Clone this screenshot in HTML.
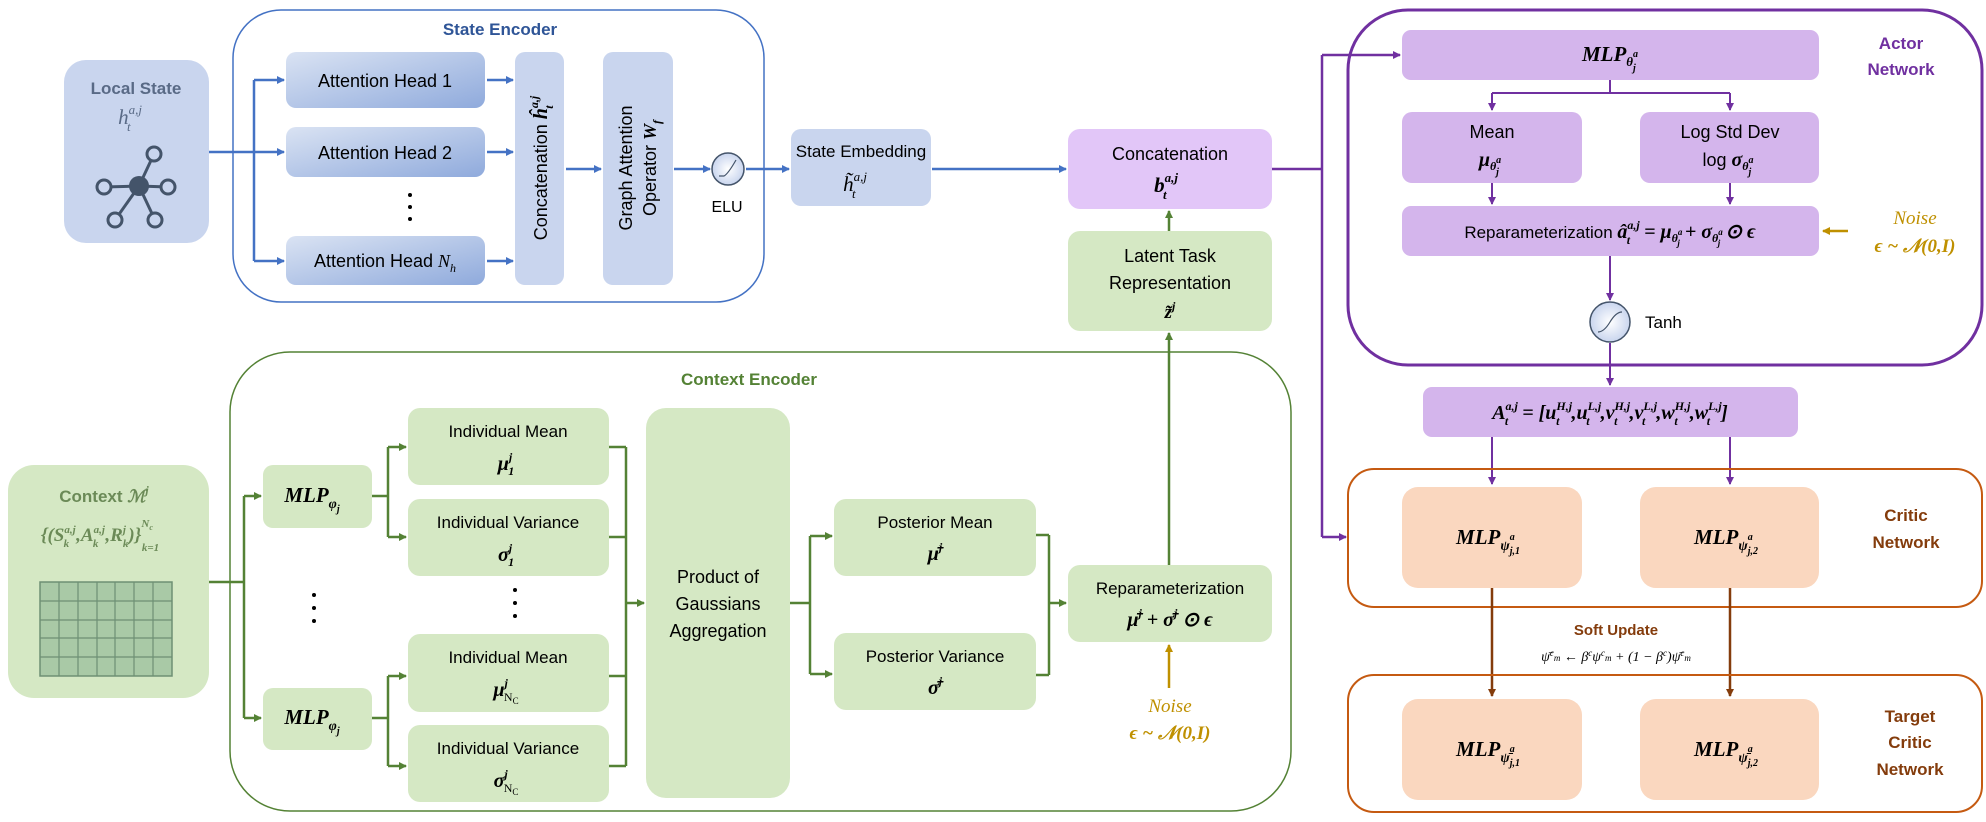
<!DOCTYPE html>
<html><head><meta charset="utf-8"><style>
html,body{margin:0;padding:0;background:#fff;}
svg{display:block;}
text{font-family:"Liberation Sans",sans-serif;}
.m{font-family:"Liberation Serif",serif;font-style:italic;font-weight:bold;}
.mi{font-family:"Liberation Serif",serif;font-style:italic;}
</style></head><body>
<svg width="1986" height="822" viewBox="0 0 1986 822" xmlns="http://www.w3.org/2000/svg">
<defs>
<marker id="mb" markerWidth="8" markerHeight="8" refX="7" refY="4" orient="auto" markerUnits="userSpaceOnUse"><path d="M0,0L8,4L0,8z" fill="#4472C4"/></marker>
<marker id="mg" markerWidth="8" markerHeight="8" refX="7" refY="4" orient="auto" markerUnits="userSpaceOnUse"><path d="M0,0L8,4L0,8z" fill="#548235"/></marker>
<marker id="mp" markerWidth="8" markerHeight="8" refX="7" refY="4" orient="auto" markerUnits="userSpaceOnUse"><path d="M0,0L8,4L0,8z" fill="#7030A0"/></marker>
<marker id="mo" markerWidth="8" markerHeight="8" refX="7" refY="4" orient="auto" markerUnits="userSpaceOnUse"><path d="M0,0L8,4L0,8z" fill="#BF9000"/></marker>
<marker id="mr" markerWidth="8" markerHeight="8" refX="7" refY="4" orient="auto" markerUnits="userSpaceOnUse"><path d="M0,0L8,4L0,8z" fill="#843C0C"/></marker>
<linearGradient id="gh" x1="0" x2="1" y1="0" y2="1"><stop offset="0" stop-color="#DAE3F3"/><stop offset="1" stop-color="#8FAADC"/></linearGradient>
<radialGradient id="gc"><stop offset="0" stop-color="#fff"/><stop offset="1" stop-color="#C9D5EE"/></radialGradient>
</defs>

<!-- ===== State encoder ===== -->
<rect x="64" y="60" width="145" height="183" rx="22" fill="#C9D5EE"/>
<text x="136" y="94" font-size="17" font-weight="bold" fill="#596A86" text-anchor="middle">Local State</text>
<text x="130" y="124" class="mi" font-size="21" fill="#596A86" text-anchor="middle">h<tspan font-size="13" dy="-10">a,j</tspan><tspan font-size="13" dx="-15" dy="17">t</tspan><tspan dx="10" dy="-7"> </tspan></text>
<g stroke="#44546A" stroke-width="3" fill="none">
<line x1="139" y1="186" x2="154" y2="154"/><line x1="139" y1="186" x2="104" y2="187"/><line x1="139" y1="186" x2="168" y2="187"/><line x1="139" y1="186" x2="115" y2="220"/><line x1="139" y1="186" x2="155" y2="220"/>
<circle cx="154" cy="154" r="7" fill="#C9D5EE"/><circle cx="104" cy="187" r="7" fill="#C9D5EE"/><circle cx="168" cy="187" r="7" fill="#C9D5EE"/><circle cx="115" cy="220" r="7" fill="#C9D5EE"/><circle cx="155" cy="220" r="7" fill="#C9D5EE"/>
</g>
<circle cx="139" cy="186" r="10" fill="#44546A"/>

<rect x="233" y="10" width="531" height="292" rx="48" fill="none" stroke="#4472C4" stroke-width="1.5"/>
<text x="500" y="35" font-size="17" font-weight="bold" fill="#2F5597" text-anchor="middle">State Encoder</text>

<g stroke="#4472C4" stroke-width="2.5" fill="none">
<line x1="209" y1="152" x2="254" y2="152"/>
<line x1="254" y1="80" x2="254" y2="261"/>
<line x1="254" y1="80" x2="284" y2="80" marker-end="url(#mb)"/>
<line x1="254" y1="152" x2="284" y2="152" marker-end="url(#mb)"/>
<line x1="254" y1="261" x2="284" y2="261" marker-end="url(#mb)"/>
<line x1="487" y1="80" x2="513" y2="80" marker-end="url(#mb)"/>
<line x1="487" y1="152" x2="513" y2="152" marker-end="url(#mb)"/>
<line x1="487" y1="261" x2="513" y2="261" marker-end="url(#mb)"/>
<line x1="566" y1="169" x2="601" y2="169" marker-end="url(#mb)"/>
<line x1="674" y1="169" x2="710" y2="169" marker-end="url(#mb)"/>
<line x1="746" y1="169" x2="789" y2="169" marker-end="url(#mb)"/>
<line x1="932" y1="169" x2="1066" y2="169" marker-end="url(#mb)"/>
</g>
<rect x="286" y="52" width="199" height="56" rx="10" fill="url(#gh)"/>
<rect x="286" y="127" width="199" height="50" rx="10" fill="url(#gh)"/>
<rect x="286" y="236" width="199" height="49" rx="10" fill="url(#gh)"/>
<text x="385" y="87" font-size="18" text-anchor="middle">Attention Head 1</text>
<text x="385" y="159" font-size="18" text-anchor="middle">Attention Head 2</text>
<text x="385" y="267" font-size="18" text-anchor="middle">Attention Head <tspan class="mi">N<tspan font-size="12" dy="5">h</tspan></tspan></text>
<circle cx="410" cy="195" r="2" fill="#000"/><circle cx="410" cy="207" r="2" fill="#000"/><circle cx="410" cy="219" r="2" fill="#000"/>
<rect x="515" y="52" width="49" height="233" rx="10" fill="#C9D5EE"/>
<text transform="translate(547,168) rotate(-90)" font-size="18" text-anchor="middle">Concatenation <tspan class="m" font-size="20">ĥ<tspan font-size="12" dy="-9">a,j</tspan><tspan font-size="12" dx="-13" dy="15">t</tspan><tspan dx="9" dy="-6"> </tspan></tspan></text>
<rect x="603" y="52" width="70" height="233" rx="10" fill="#C9D5EE"/>
<text transform="translate(632,168) rotate(-90)" font-size="18" text-anchor="middle">Graph Attention</text>
<text transform="translate(656,168) rotate(-90)" font-size="18" text-anchor="middle">Operator <tspan class="m">W<tspan font-size="12" dy="5">f</tspan></tspan></text>
<circle cx="728" cy="169" r="16" fill="url(#gc)" stroke="#44546A" stroke-width="1.5"/>
<path d="M719,176 L724,176 Q728,174 736,160" stroke="#44546A" fill="none" stroke-width="1.2"/>
<text x="727" y="212" font-size="16" text-anchor="middle">ELU</text>
<rect x="791" y="129" width="140" height="77" rx="10" fill="#C9D5EE"/>
<text x="861" y="157" font-size="17" text-anchor="middle">State Embedding</text>
<text x="855" y="191" class="mi" font-size="21" text-anchor="middle">h̃<tspan font-size="13" dy="-10">a,j</tspan><tspan font-size="13" dx="-15" dy="17">t</tspan><tspan dx="10" dy="-7"> </tspan></text>

<!-- ===== Concat / latent ===== -->
<rect x="1068" y="129" width="204" height="80" rx="12" fill="#E2C6F8"/>
<text x="1170" y="160" font-size="18" text-anchor="middle">Concatenation</text>
<text x="1166" y="192" class="m" font-size="21" text-anchor="middle">b<tspan font-size="13" dy="-10">a,j</tspan><tspan font-size="13" dx="-15" dy="17">t</tspan><tspan dx="10" dy="-7"> </tspan></text>
<rect x="1068" y="231" width="204" height="100" rx="12" fill="#D5E8C4"/>
<text x="1170" y="262" font-size="18" text-anchor="middle">Latent Task</text>
<text x="1170" y="289" font-size="18" text-anchor="middle">Representation</text>
<text x="1170" y="318" class="m" font-size="19" text-anchor="middle">z̃<tspan font-size="12" dy="-8">j</tspan></text>
<g stroke="#548235" stroke-width="2.5" fill="none">
<line x1="1169" y1="231" x2="1169" y2="211" marker-end="url(#mg)"/>
<line x1="1169" y1="565" x2="1169" y2="333" marker-end="url(#mg)"/>
</g>

<!-- purple connector -->
<g stroke="#7030A0" stroke-width="2.5" fill="none">
<polyline points="1272,169 1322,169"/>
<line x1="1322" y1="55" x2="1322" y2="537"/>
<line x1="1322" y1="55" x2="1400" y2="55" marker-end="url(#mp)"/>
<line x1="1322" y1="537" x2="1346" y2="537" marker-end="url(#mp)"/>
</g>

<!-- ===== Actor ===== -->
<rect x="1348" y="10" width="634" height="355" rx="60" fill="none" stroke="#7030A0" stroke-width="3"/>
<text x="1901" y="49" font-size="17" font-weight="bold" fill="#7030A0" text-anchor="middle">Actor</text>
<text x="1901" y="75" font-size="17" font-weight="bold" fill="#7030A0" text-anchor="middle">Network</text>
<rect x="1402" y="30" width="417" height="50" rx="9" fill="#D4B5EC"/>
<text x="1610" y="61" class="m" font-size="21" text-anchor="middle">MLP<tspan font-size="13" dy="5">θ</tspan><tspan font-size="10" dy="-9">a</tspan><tspan font-size="10" dx="-5" dy="14">j</tspan></text>
<rect x="1402" y="112" width="180" height="71" rx="10" fill="#D4B5EC"/>
<rect x="1640" y="112" width="179" height="71" rx="10" fill="#D4B5EC"/>
<text x="1492" y="138" font-size="18" text-anchor="middle">Mean</text>
<text x="1490" y="166" class="m" font-size="20" text-anchor="middle">μ<tspan font-size="12" dy="4">θ</tspan><tspan font-size="10" dy="-7">a</tspan><tspan font-size="10" dx="-5" dy="12">j</tspan></text>
<text x="1730" y="138" font-size="18" text-anchor="middle">Log Std Dev</text>
<text x="1728" y="166" font-size="18" text-anchor="middle">log <tspan class="m" font-size="20">σ<tspan font-size="12" dy="4">θ</tspan><tspan font-size="10" dy="-7">a</tspan><tspan font-size="10" dx="-5" dy="12">j</tspan></tspan></text>
<rect x="1402" y="206" width="417" height="50" rx="9" fill="#D4B5EC"/>
<text x="1610" y="238" font-size="17" text-anchor="middle">Reparameterization <tspan class="m" font-size="20">â<tspan font-size="12" dy="-9">a,j</tspan><tspan font-size="12" dx="-13" dy="15">t</tspan><tspan dx="9" dy="-6"> = μ</tspan><tspan font-size="12" dy="4">θ</tspan><tspan font-size="9" dy="-7">a</tspan><tspan font-size="9" dx="-5" dy="11">j</tspan><tspan dy="-8"> + σ</tspan><tspan font-size="12" dy="4">θ</tspan><tspan font-size="9" dy="-7">a</tspan><tspan font-size="9" dx="-5" dy="11">j</tspan><tspan dy="-8"> ⊙ ϵ</tspan></tspan></text>
<g stroke="#7030A0" stroke-width="2" fill="none">
<line x1="1610" y1="80" x2="1610" y2="93"/>
<line x1="1492" y1="93" x2="1730" y2="93"/>
<line x1="1492" y1="93" x2="1492" y2="110" marker-end="url(#mp)"/>
<line x1="1730" y1="93" x2="1730" y2="110" marker-end="url(#mp)"/>
<line x1="1492" y1="183" x2="1492" y2="204" marker-end="url(#mp)"/>
<line x1="1730" y1="183" x2="1730" y2="204" marker-end="url(#mp)"/>
<line x1="1610" y1="256" x2="1610" y2="300" marker-end="url(#mp)"/>
<line x1="1610" y1="343" x2="1610" y2="385" marker-end="url(#mp)"/>
<line x1="1492" y1="437" x2="1492" y2="484" marker-end="url(#mp)"/>
<line x1="1730" y1="437" x2="1730" y2="484" marker-end="url(#mp)"/>
</g>
<line x1="1848" y1="231" x2="1823" y2="231" stroke="#BF9000" stroke-width="2.5" marker-end="url(#mo)"/>
<text x="1915" y="224" class="mi" font-size="19" fill="#BF9000" text-anchor="middle">Noise</text>
<text x="1915" y="252" class="m" font-size="19" fill="#BF9000" text-anchor="middle">ϵ ~ 𝒩(0,I)</text>
<circle cx="1610" cy="322" r="20" fill="url(#gc)" stroke="#44546A" stroke-width="1.5"/>
<path d="M1598,332 Q1604,332 1610,322 Q1616,312 1622,312" stroke="#44546A" fill="none" stroke-width="1.2"/>
<text x="1645" y="328" font-size="17">Tanh</text>
<rect x="1423" y="387" width="375" height="50" rx="9" fill="#D4B5EC"/>
<text x="1610" y="419" class="m" font-size="20" text-anchor="middle">A<tspan font-size="12" dy="-9">a,j</tspan><tspan font-size="12" dx="-13" dy="15">t</tspan><tspan dx="9" dy="-6"> = [u</tspan><tspan font-size="12" dy="-9">H,j</tspan><tspan font-size="12" dx="-16" dy="15">t</tspan><tspan dx="12" dy="-6">,u</tspan><tspan font-size="12" dy="-9">L,j</tspan><tspan font-size="12" dx="-15" dy="15">t</tspan><tspan dx="11" dy="-6">,v</tspan><tspan font-size="12" dy="-9">H,j</tspan><tspan font-size="12" dx="-16" dy="15">t</tspan><tspan dx="12" dy="-6">,v</tspan><tspan font-size="12" dy="-9">L,j</tspan><tspan font-size="12" dx="-15" dy="15">t</tspan><tspan dx="11" dy="-6">,w</tspan><tspan font-size="12" dy="-9">H,j</tspan><tspan font-size="12" dx="-16" dy="15">t</tspan><tspan dx="12" dy="-6">,w</tspan><tspan font-size="12" dy="-9">L,j</tspan><tspan font-size="12" dx="-15" dy="15">t</tspan><tspan dx="11" dy="-6">]</tspan></text>

<!-- ===== Critic ===== -->
<rect x="1348" y="469" width="634" height="138" rx="26" fill="none" stroke="#C55A11" stroke-width="2"/>
<rect x="1402" y="487" width="180" height="101" rx="16" fill="#FAD7BF"/>
<rect x="1640" y="487" width="179" height="101" rx="16" fill="#FAD7BF"/>
<text x="1488" y="544" class="m" font-size="21" text-anchor="middle">MLP<tspan font-size="14" dy="6">ψ</tspan><tspan font-size="10" dy="-10">a</tspan><tspan font-size="10" dx="-5" dy="14">j,1</tspan></text>
<text x="1726" y="544" class="m" font-size="21" text-anchor="middle">MLP<tspan font-size="14" dy="6">ψ</tspan><tspan font-size="10" dy="-10">a</tspan><tspan font-size="10" dx="-5" dy="14">j,2</tspan></text>
<text x="1906" y="521" font-size="17" font-weight="bold" fill="#843C0C" text-anchor="middle">Critic</text>
<text x="1906" y="548" font-size="17" font-weight="bold" fill="#843C0C" text-anchor="middle">Network</text>
<g stroke="#843C0C" stroke-width="2.5">
<line x1="1492" y1="588" x2="1492" y2="696" marker-end="url(#mr)"/>
<line x1="1730" y1="588" x2="1730" y2="696" marker-end="url(#mr)"/>
</g>
<text x="1616" y="635" font-size="15" font-weight="bold" fill="#843C0C" text-anchor="middle">Soft Update</text>
<text x="1616" y="661" class="mi" font-size="14" text-anchor="middle">ψ̄<tspan font-size="9" dy="-5">c</tspan><tspan font-size="9" dy="5">m</tspan><tspan> ← β</tspan><tspan font-size="9" dy="-5">c</tspan><tspan dy="5">ψ</tspan><tspan font-size="9" dy="-5">c</tspan><tspan font-size="9" dy="5">m</tspan><tspan> + (1 − β</tspan><tspan font-size="9" dy="-5">c</tspan><tspan dy="5">)ψ̄</tspan><tspan font-size="9" dy="-5">c</tspan><tspan font-size="9" dy="5">m</tspan></text>
<rect x="1348" y="675" width="634" height="137" rx="26" fill="none" stroke="#C55A11" stroke-width="2"/>
<rect x="1402" y="699" width="180" height="101" rx="16" fill="#FAD7BF"/>
<rect x="1640" y="699" width="179" height="101" rx="16" fill="#FAD7BF"/>
<text x="1488" y="756" class="m" font-size="21" text-anchor="middle">MLP<tspan font-size="14" dy="6">ψ̄</tspan><tspan font-size="10" dy="-10">a</tspan><tspan font-size="10" dx="-5" dy="14">j,1</tspan></text>
<text x="1726" y="756" class="m" font-size="21" text-anchor="middle">MLP<tspan font-size="14" dy="6">ψ̄</tspan><tspan font-size="10" dy="-10">a</tspan><tspan font-size="10" dx="-5" dy="14">j,2</tspan></text>
<text x="1910" y="722" font-size="17" font-weight="bold" fill="#843C0C" text-anchor="middle">Target</text>
<text x="1910" y="748" font-size="17" font-weight="bold" fill="#843C0C" text-anchor="middle">Critic</text>
<text x="1910" y="775" font-size="17" font-weight="bold" fill="#843C0C" text-anchor="middle">Network</text>

<!-- ===== Context encoder ===== -->
<rect x="8" y="465" width="201" height="233" rx="26" fill="#D5E8C4"/>
<text x="104" y="502" font-size="17" font-weight="bold" fill="#6B8A57" text-anchor="middle">Context <tspan class="mi">ℳ<tspan font-size="12" dy="-8">j</tspan></tspan></text>
<text x="100" y="541" class="m" font-size="19" fill="#6B8A57" text-anchor="middle">{(S<tspan font-size="11" dy="-8">a,j</tspan><tspan font-size="11" dx="-12" dy="14">k</tspan><tspan dx="7" dy="-6">,A</tspan><tspan font-size="11" dy="-8">a,j</tspan><tspan font-size="11" dx="-12" dy="14">k</tspan><tspan dx="7" dy="-6">,R</tspan><tspan font-size="11" dy="-8">j</tspan><tspan font-size="11" dx="-3" dy="14">k</tspan><tspan dy="-6">)}</tspan><tspan font-size="11" dy="-14">N</tspan><tspan font-size="8" dy="3">c</tspan><tspan font-size="11" dx="-11" dy="21">k=1</tspan></text>
<g>
<rect x="40" y="582" width="132" height="94" fill="#A9C9A6" stroke="#6E8F74" stroke-width="1.5"/>
<g stroke="#6E8F74" stroke-width="1.2">
<line x1="59" y1="582" x2="59" y2="676"/><line x1="78" y1="582" x2="78" y2="676"/><line x1="97" y1="582" x2="97" y2="676"/><line x1="115" y1="582" x2="115" y2="676"/><line x1="134" y1="582" x2="134" y2="676"/><line x1="153" y1="582" x2="153" y2="676"/>
<line x1="40" y1="601" x2="172" y2="601"/><line x1="40" y1="620" x2="172" y2="620"/><line x1="40" y1="638" x2="172" y2="638"/><line x1="40" y1="657" x2="172" y2="657"/>
</g></g>

<rect x="230" y="352" width="1061" height="459" rx="60" fill="none" stroke="#548235" stroke-width="1.5"/>
<text x="749" y="385" font-size="17" font-weight="bold" fill="#548235" text-anchor="middle">Context Encoder</text>

<g stroke="#548235" stroke-width="2.5" fill="none">
<line x1="209" y1="582" x2="244" y2="582"/>
<line x1="244" y1="496" x2="244" y2="718"/>
<line x1="244" y1="496" x2="261" y2="496" marker-end="url(#mg)"/>
<line x1="244" y1="718" x2="261" y2="718" marker-end="url(#mg)"/>
<line x1="372" y1="496" x2="388" y2="496"/><line x1="372" y1="718" x2="388" y2="718"/>
<line x1="388" y1="447" x2="388" y2="537"/><line x1="388" y1="676" x2="388" y2="766"/>
<line x1="388" y1="447" x2="406" y2="447" marker-end="url(#mg)"/>
<line x1="388" y1="537" x2="406" y2="537" marker-end="url(#mg)"/>
<line x1="388" y1="676" x2="406" y2="676" marker-end="url(#mg)"/>
<line x1="388" y1="766" x2="406" y2="766" marker-end="url(#mg)"/>
<line x1="609" y1="447" x2="626" y2="447"/><line x1="609" y1="537" x2="626" y2="537"/><line x1="609" y1="676" x2="626" y2="676"/><line x1="609" y1="766" x2="626" y2="766"/>
<line x1="626" y1="447" x2="626" y2="766"/>
<line x1="626" y1="603" x2="644" y2="603" marker-end="url(#mg)"/>
<line x1="790" y1="603" x2="810" y2="603"/>
<line x1="810" y1="536" x2="810" y2="674"/>
<line x1="810" y1="536" x2="832" y2="536" marker-end="url(#mg)"/>
<line x1="810" y1="674" x2="832" y2="674" marker-end="url(#mg)"/>
<line x1="1036" y1="535" x2="1049" y2="535"/><line x1="1036" y1="675" x2="1049" y2="675"/>
<line x1="1049" y1="535" x2="1049" y2="675"/>
<line x1="1049" y1="603" x2="1066" y2="603" marker-end="url(#mg)"/>
</g>
<rect x="263" y="465" width="109" height="63" rx="10" fill="#D5E8C4"/>
<rect x="263" y="688" width="109" height="62" rx="10" fill="#D5E8C4"/>
<text x="312" y="502" class="m" font-size="21" text-anchor="middle">MLP<tspan font-size="14" dy="6">φ</tspan><tspan font-size="10" dy="4">j</tspan></text>
<text x="312" y="724" class="m" font-size="21" text-anchor="middle">MLP<tspan font-size="14" dy="6">φ</tspan><tspan font-size="10" dy="4">j</tspan></text>
<circle cx="314" cy="595" r="2" fill="#000"/><circle cx="314" cy="608" r="2" fill="#000"/><circle cx="314" cy="621" r="2" fill="#000"/>
<circle cx="515" cy="590" r="2" fill="#000"/><circle cx="515" cy="603" r="2" fill="#000"/><circle cx="515" cy="616" r="2" fill="#000"/>

<rect x="408" y="408" width="201" height="77" rx="12" fill="#D5E8C4"/>
<rect x="408" y="499" width="201" height="77" rx="12" fill="#D5E8C4"/>
<rect x="408" y="634" width="201" height="78" rx="12" fill="#D5E8C4"/>
<rect x="408" y="725" width="201" height="77" rx="12" fill="#D5E8C4"/>
<text x="508" y="437" font-size="17" text-anchor="middle">Individual Mean</text>
<text x="506" y="470" class="m" font-size="20" text-anchor="middle">μ<tspan font-size="12" dy="-9">j</tspan><tspan font-size="12" dx="-4" dy="14">1</tspan></text>
<text x="508" y="528" font-size="17" text-anchor="middle">Individual Variance</text>
<text x="506" y="561" class="m" font-size="20" text-anchor="middle">σ<tspan font-size="12" dy="-9">j</tspan><tspan font-size="12" dx="-4" dy="14">1</tspan></text>
<text x="508" y="663" font-size="17" text-anchor="middle">Individual Mean</text>
<text x="506" y="696" class="m" font-size="20" text-anchor="middle">μ<tspan font-size="12" dy="-9">j</tspan><tspan font-size="12" dx="-4" dy="14" font-style="normal" font-weight="normal">N<tspan font-size="9" dy="3">C</tspan></tspan></text>
<text x="508" y="754" font-size="17" text-anchor="middle">Individual Variance</text>
<text x="506" y="787" class="m" font-size="20" text-anchor="middle">σ<tspan font-size="12" dy="-9">j</tspan><tspan font-size="12" dx="-4" dy="14" font-style="normal" font-weight="normal">N<tspan font-size="9" dy="3">C</tspan></tspan></text>

<rect x="646" y="408" width="144" height="390" rx="20" fill="#D5E8C4"/>
<text x="718" y="583" font-size="18" text-anchor="middle">Product of</text>
<text x="718" y="610" font-size="18" text-anchor="middle">Gaussians</text>
<text x="718" y="637" font-size="18" text-anchor="middle">Aggregation</text>

<rect x="834" y="499" width="202" height="77" rx="12" fill="#D5E8C4"/>
<rect x="834" y="633" width="202" height="77" rx="12" fill="#D5E8C4"/>
<text x="935" y="528" font-size="17" text-anchor="middle">Posterior Mean</text>
<text x="935" y="560" class="m" font-size="20" text-anchor="middle">μ̄<tspan font-size="12" dy="-9">j</tspan></text>
<text x="935" y="662" font-size="17" text-anchor="middle">Posterior Variance</text>
<text x="935" y="694" class="m" font-size="20" text-anchor="middle">σ̄<tspan font-size="12" dy="-9">j</tspan></text>

<rect x="1068" y="565" width="204" height="77" rx="12" fill="#D5E8C4"/>
<text x="1170" y="594" font-size="17" text-anchor="middle">Reparameterization</text>
<text x="1170" y="626" class="m" font-size="20" text-anchor="middle">μ̄<tspan font-size="12" dy="-9">j</tspan><tspan dy="9"> + σ̄</tspan><tspan font-size="12" dy="-9">j</tspan><tspan dy="9"> ⊙ ϵ</tspan></text>
<line x1="1169" y1="688" x2="1169" y2="645" stroke="#BF9000" stroke-width="2.5" marker-end="url(#mo)"/>
<text x="1170" y="712" class="mi" font-size="19" fill="#BF9000" text-anchor="middle">Noise</text>
<text x="1170" y="739" class="m" font-size="19" fill="#BF9000" text-anchor="middle">ϵ ~ 𝒩(0,I)</text>
</svg>
</body></html>
